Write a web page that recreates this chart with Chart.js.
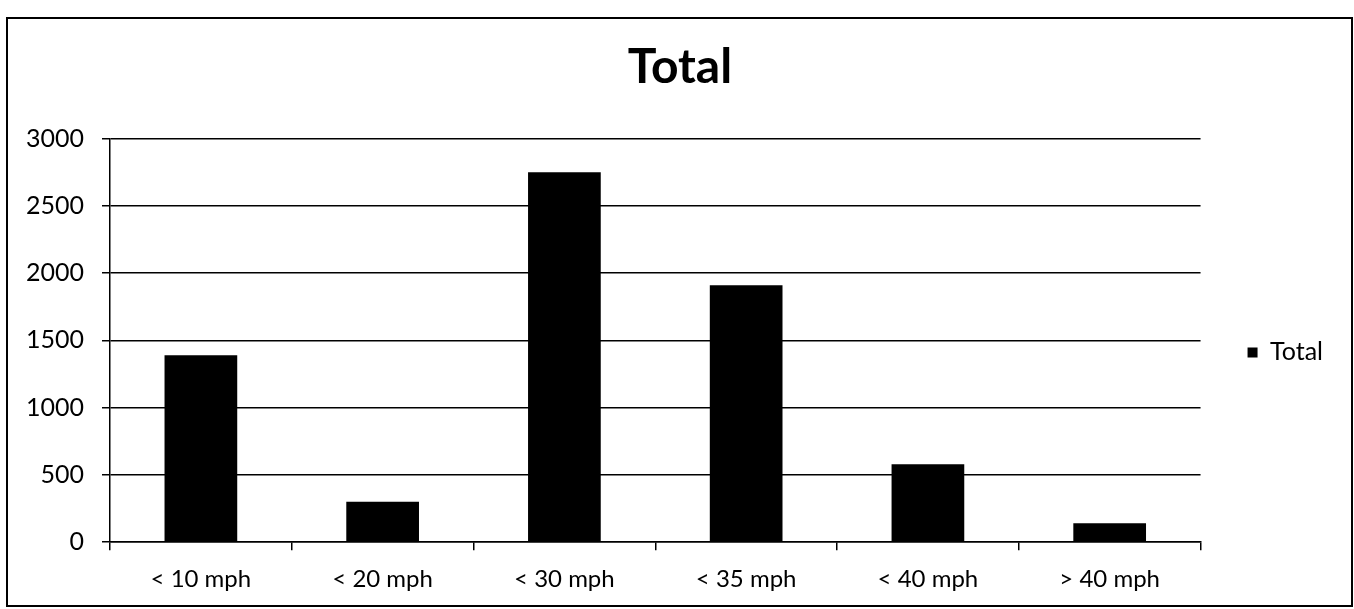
<!DOCTYPE html>
<html>
<head>
<meta charset="utf-8">
<script src="https://cdn.jsdelivr.net/npm/chart.js@4"></script>
<style>
html,body{margin:0;padding:0;background:#fff;}
#wrap{width:1354px;height:609px;position:relative;}
</style>
</head>
<body>
<div id="wrap"><canvas id="c" width="1354" height="609"></canvas></div>
<script>
const categories = ["< 10 mph", "< 20 mph", "< 30 mph", "< 35 mph", "< 40 mph", "> 40 mph"];
const totalValues = [1390, 300, 2750, 1910, 580, 140];
const yTicks = [0, 500, 1000, 1500, 2000, 2500, 3000];
const seriesName = "Total";
const titleText = "Total";

const FONT = 'Lato, "Open Sans", sans-serif';

const framePlugin = {
  id: 'frame',
  afterDraw(chart) {
    const ctx = chart.ctx;
    ctx.save();
    ctx.strokeStyle = '#000';
    ctx.lineWidth = 2;
    ctx.strokeRect(7, 18, 1345, 588);
    ctx.restore();
  }
};

const spacer = (w, weight) => ({
  type: 'linear',
  position: 'right',
  display: true,
  weight: weight,
  grid: { display: false },
  border: { display: false },
  ticks: { display: false },
  afterFit(axis) { axis.width = w; }
});

new Chart(document.getElementById('c'), {
  type: 'bar',
  data: {
    labels: categories,
    datasets: [{
      label: seriesName,
      data: totalValues,
      backgroundColor: '#000',
      borderWidth: 0,
      barPercentage: 0.4,
      categoryPercentage: 1.0,
      yAxisID: 'y'
    }]
  },
  options: {
    responsive: false,
    animation: false,
    devicePixelRatio: 1,
    layout: { padding: { left: 8, right: 2, top: 20, bottom: 0 } },
    plugins: {
      title: {
        display: true,
        text: titleText,
        color: '#000',
        font: { family: FONT, size: 48, weight: 'bold' },
        padding: { top: 19, bottom: 42 }
      },
      legend: {
        position: 'right',
        fullSize: false,
        title: {
          display: true,
          text: ' ',
          font: { family: FONT, size: 20, lineHeight: 1.2 },
          padding: 0
        },
        labels: {
          color: '#000',
          font: { family: FONT, size: 25 },
          boxWidth: 10,
          boxHeight: 10,
          padding: 10
        }
      },
      tooltip: { enabled: false }
    },
    scales: {
      x: {
        offset: true,
        grid: {
          display: true,
          offset: true,
          drawOnChartArea: false,
          drawTicks: true,
          tickLength: 8,
          color: '#000',
          lineWidth: 1.5
        },
        border: { display: true, color: '#000', width: 1.5 },
        ticks: {
          color: '#000',
          font: { family: FONT, size: 24 },
          padding: 15,
          maxRotation: 0
        }
      },
      y: {
        min: 0,
        max: 3000,
        afterBuildTicks(axis) { axis.ticks = yTicks.map(v => ({ value: v })); },
        grid: {
          color: '#000',
          lineWidth: 1.5,
          drawTicks: true,
          tickLength: 8
        },
        border: { display: true, color: '#000', width: 1.5 },
        ticks: {
          color: '#000',
          font: { family: FONT, size: 25 },
          padding: 18,
          callback: (v) => String(v)
        }
      },
      ySpacer: spacer(37, 0),
      ySpacerOuter: spacer(19, 2000)
    }
  },
  plugins: [framePlugin]
});
</script>
</body>
</html>
